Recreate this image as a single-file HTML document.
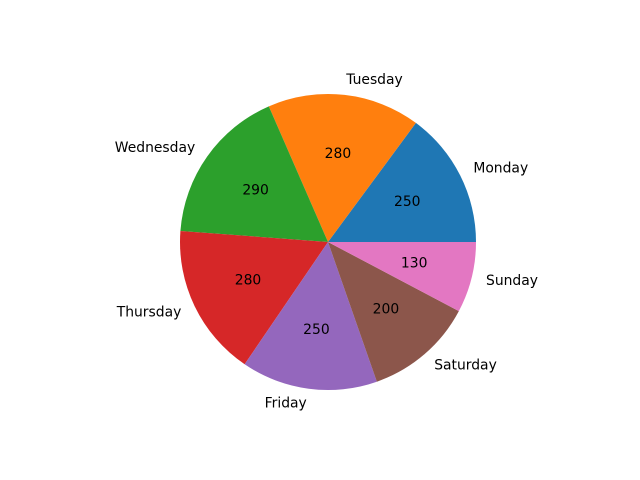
<!DOCTYPE html>
<html><head><meta charset="utf-8"><style>
body{margin:0;background:#fff;}
svg{display:block;}
text{font-family:"DejaVu Sans","Liberation Sans",sans-serif;font-size:13.9px;fill:#000;}
</style></head><body>
<svg id="chart" width="640" height="480"></svg>
<script>
const categories = ["Monday","Tuesday","Wednesday","Thursday","Friday","Saturday","Sunday"];
const values = [250,280,290,280,250,200,130];
const colors = ["#1f77b4","#ff7f0e","#2ca02c","#d62728","#9467bd","#8c564b","#e377c2"];
const svg = document.getElementById('chart');
const NS = 'http://www.w3.org/2000/svg';
const cx = 328, cy = 242, r = 148;
const total = values.reduce((a,b)=>a+b,0);
function pt(a, rr){ return [cx + rr*Math.cos(a), cy - rr*Math.sin(a)]; }
let start = 0;
values.forEach((v,i)=>{
  const sweep = v/total*2*Math.PI;
  const end = start + sweep;
  const [x1,y1] = pt(start,r), [x2,y2] = pt(end,r);
  const large = sweep > Math.PI ? 1 : 0;
  const p = document.createElementNS(NS,'path');
  p.setAttribute('d',`M${cx},${cy} L${x1},${y1} A${r},${r} 0 ${large} 0 ${x2},${y2} Z`);
  p.setAttribute('fill',colors[i]);
  
  
  svg.appendChild(p);
  const mid = start + sweep/2;
  const [lx,ly] = pt(mid, r*1.1);
  const t = document.createElementNS(NS,'text');
  t.setAttribute('x',lx); t.setAttribute('y',ly);
  t.setAttribute('text-anchor', Math.cos(mid) >= 0 ? 'start' : 'end');
  t.setAttribute('dominant-baseline','central');
  t.textContent = categories[i];
  
  
  svg.appendChild(t);
  const [vx,vy] = pt(mid, r*0.6);
  const tv = document.createElementNS(NS,'text');
  tv.setAttribute('x',vx); tv.setAttribute('y',vy);
  tv.setAttribute('text-anchor','middle');
  tv.setAttribute('dominant-baseline','central');
  tv.textContent = String(v);
  
  
  svg.appendChild(tv);
  start = end;
});
</script>
</body></html>
